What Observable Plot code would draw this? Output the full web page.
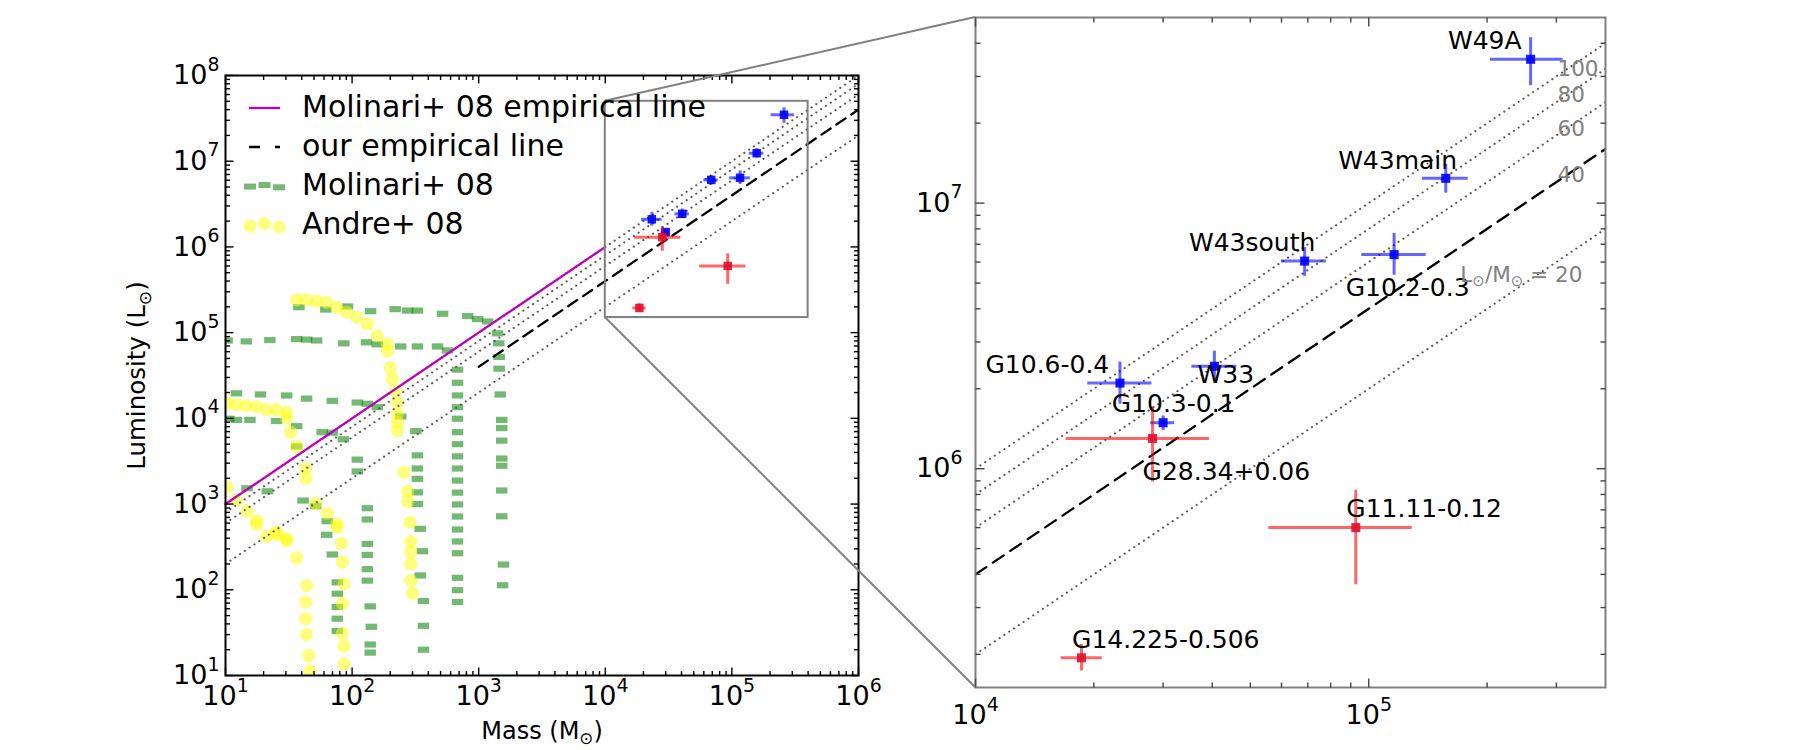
<!DOCTYPE html>
<html>
<head>
<meta charset="utf-8">
<title>Luminosity versus mass of massive clumps</title>
<script src="https://cdn.jsdelivr.net/npm/d3@7"></script>
<script src="https://cdn.jsdelivr.net/npm/@observablehq/plot@0.6"></script>
<style>
  html, body { margin: 0; padding: 0; background: #fff; }
  #chart { position: relative; width: 1800px; height: 750px; overflow: hidden; font-family: "DejaVu Sans", sans-serif; }
  #chart > svg { position: absolute; top: 0; }
</style>
</head>
<body>
<div id="chart"></div>
<script>
// ---------------- clumps (mass in Msun, luminosity in Lsun) ----------------
const clumpNames  = ["W49A", "W43main", "W43south", "G10.2-0.3", "G10.6-0.4", "W33", "G10.3-0.1", "G28.34+0.06", "G11.11-0.12", "G14.225-0.506"];
const clumpMass   = [2.58e5, 1.57e5, 6.87e4, 1.16e5, 2.33e4, 4.05e4, 3.0e4, 2.82e4, 9.27e4, 1.86e4];
const clumpMassLo = [2.04e5, 1.37e5, 6.0e4, 9.6e4, 1.93e4, 3.55e4, 2.79e4, 1.70e4, 5.57e4, 1.65e4];
const clumpMassHi = [3.12e5, 1.79e5, 7.8e4, 1.40e5, 2.81e4, 4.62e4, 3.21e4, 3.94e4, 1.29e5, 2.10e4];
const clumpLum    = [3.48e7, 1.24e7, 6.05e6, 6.4e6, 2.1e6, 2.43e6, 1.49e6, 1.30e6, 6.0e5, 1.94e5];
const clumpLumLo  = [2.77e7, 1.09e7, 5.3e6, 5.35e6, 1.75e6, 2.15e6, 1.39e6, 8.9e5, 3.66e5, 1.73e5];
const clumpLumHi  = [4.2e7, 1.4e7, 6.8e6, 7.7e6, 2.52e6, 2.77e6, 1.58e6, 1.71e6, 8.3e5, 2.18e5];
const clumpColor  = ["blue", "blue", "blue", "blue", "blue", "blue", "blue", "red", "red", "red"];
// where each name is written (left end of the text, vertical middle)
const labelMass   = [1.59e5, 8.36e4, 3.49e4, 8.74e4, 1.06e4, 3.67e4, 2.22e4, 2.66e4, 8.77e4, 1.76e4];
const labelLum    = [4.08e7, 1.44e7, 7.1e6, 4.8e6, 2.45e6, 2.26e6, 1.75e6, 9.75e5, 7.06e5, 2.27e5];

// ---------------- Molinari+ 08 evolutionary tracks: [mass, luminosity] ----------------
const molinariTrack1 = [[38,1.98e5],[62,1.86e5],[92,2.02e5],[140,1.78e5],[219,1.88e5],[274,1.81e5],[328,1.81e5],[518,1.66e5],[817,1.56e5],[980,1.44e5],[1175,1.35e5],[1410,9.8e4],[1440,7.5e4],[1450,5.2e4],[1450,3.8e4],[1480,1.9e4],[1520,9.6e3],[1520,7.7e3],[1520,5.5e3],[1520,3.4e3],[1520,2.8e3],[1520,1.44e3],[1520,720],[1570,197],[1545,113]];
const molinariTrack2 = [[10.3,8.1e4],[14.6,7.9e4],[22.4,8.2e4],[36.5,8.4e4],[43.7,8.3e4],[52.5,8.1e4],[86,7.5e4],[130,7.7e4],[158,7.3e4],[242,6.9e4],[328,6.9e4],[473,6.9e4],[567,6.2e4],[680,3.7e4],[680,2.6e4],[680,1.85e4],[680,1.35e4],[680,9.9e3],[680,6.9e3],[680,5.0e3],[680,3.6e3],[680,2.6e3],[680,1.88e3],[680,1.36e3],[680,990],[680,716],[680,505],[680,366],[680,267],[680,138],[680,99],[680,72]];
const molinariTrack3 = [[12.2,1.96e4],[18.9,1.9e4],[30.4,1.85e4],[43.7,1.7e4],[69.8,1.6e4],[110,1.53e4],[132,1.48e4],[158,1.35e4],[242,1.05e4],[319,7.1e3],[328,3.7e3],[328,2.6e3],[328,1.97e3],[328,1.37e3],[328,1.0e3],[345,514],[359,282],[345,147],[366,74],[366,38],[366,20]];
const molinariTrack4 = [[10.6,9.9e3],[12.2,9.6e3],[15.6,9.6e3],[25.3,9.3e3],[36.5,8.1e3],[36.5,4.7e3],[58,6.9e3],[69.8,6.8e3],[85.3,5.7e3],[110,3.3e3],[110,2.4e3],[132,895],[132,661],[132,343],[132,255],[132,174],[132,128],[139,64],[142,37],[139,23],[139,18.5]];
const molinariTrack5 = [[14.8,1.53e3],[21.4,1.41e3],[41,1.1e3],[51.5,945],[63.7,631],[63,438],[69.8,258],[76.4,122],[76.4,90],[76.4,63],[76.4,46],[76.4,33]];

// ---------------- Andre+ 08 evolutionary tracks: [mass, luminosity] ----------------
const andreTrack1 = [[36.5,2.41e5],[43.7,2.41e5],[52.5,2.31e5],[63,2.25e5],[75.5,1.98e5],[90.6,1.73e5],[109,1.51e5],[132,1.26e5],[158,9.2e4],[190,7.4e4],[190,6.1e4],[200,3.9e4],[208,2.9e4],[221,2.1e4],[228,1.54e4],[228,1.13e4],[228,9.0e3],[228,7.2e3],[257,2.35e3],[274,1.4e3],[274,1.07e3],[287,614],[291,365],[291,274],[291,200],[291,128],[300,91]];
const andreTrack2 = [[10.3,1.5e4],[12.2,1.45e4],[14.6,1.41e4],[17.6,1.37e4],[21.1,1.26e4],[25.3,1.26e4],[30.4,1.18e4],[30.4,1.0e4],[32.7,6.9e3],[36.5,4.7e3],[43,2.6e3],[43,2.0e3],[43.7,112],[43,72],[43,46],[43.7,30],[45.6,17.1],[46.5,11.4]];
const andreTrack3 = [[10.3,1.57e3],[12.2,1.1e3],[14.8,826],[17.6,643],[17.6,577],[21.1,418],[25.3,470],[25.3,442],[30.4,393],[30.4,375],[36.5,235]];
const andreTrack4 = [[51.5,1.02e3],[63.7,782],[75.5,587],[76.4,537],[82.2,349],[83.8,210],[86.3,117],[83.8,69],[83.8,31],[86.3,22],[86.3,13.6]];

// ---------------- reference lines L = k M ----------------
const ratioLines = [20, 60, 80, 100];      // dotted
const ourRatio = 40;                        // dashed, "our empirical line"
const molinariRatio = 100;                  // magenta, Molinari+ 08 empirical line
const molinariLineMass = [10, 1e4];
const ourLineMassLeft = [1e3, 1e6];

// ---------------- axes ----------------
const fullMass = [10, 1e6];
const fullLum = [10, 1e8];
const zoomMass = [1e4, 4e5];
const zoomLum = [1.5e5, 5e7];
const leftMassTicks = [1e1, 1e2, 1e3, 1e4, 1e5, 1e6];
const leftLumTicks = [1e1, 1e2, 1e3, 1e4, 1e5, 1e6, 1e7, 1e8];
const rightMassTicks = [1e4, 1e5];
const rightLumTicks = [1e6, 1e7];

const ratioLabels = ["100", "80", "60", "40", "L_{⊙}/M_{⊙} = 20"];
const ratioLabelMass = [3.02e5, 3.02e5, 3.02e5, 3.02e5, 1.71e5];
const ratioLabelLum = [3.2e7, 2.56e7, 1.9e7, 1.28e7, 5.37e6];

const legendLabels = ["Molinari+ 08 empirical line", "our empirical line", "Molinari+ 08", "Andre+ 08"];

// ---------------- derived tables ----------------
const clumps = clumpNames.map((name, i) => ({
  name, m: clumpMass[i], mLo: clumpMassLo[i], mHi: clumpMassHi[i],
  l: clumpLum[i], lLo: clumpLumLo[i], lHi: clumpLumHi[i],
  color: clumpColor[i], labelM: labelMass[i], labelL: labelLum[i]
}));
const toPoints = (tracks) => tracks.flat().map(([m, l]) => ({m, l}));
const molinariPoints = toPoints([molinariTrack1, molinariTrack2, molinariTrack3, molinariTrack4, molinariTrack5]);
const andrePoints = toPoints([andreTrack1, andreTrack2, andreTrack3, andreTrack4]);
const ratioLabelRows = ratioLabels.map((text, i) => ({text, m: ratioLabelMass[i], l: ratioLabelLum[i]}));

function minorTicks([lo, hi]) {
  const out = [];
  for (let e = Math.floor(Math.log10(lo)); e < Math.ceil(Math.log10(hi)); e++)
    for (let k = 2; k <= 9; k++) { const v = k * 10 ** e; if (v > lo && v < hi) out.push(v); }
  return out;
}
const expFormat = (d) => `10^{${Math.round(Math.log10(d))}}`;

// ---------------- shared marks ----------------
const barColor = {blue: "#0000ff", red: "#ff0000"};
const markerColor = {blue: "#0000ff", red: "#e0102f"};
const dashSymbol = {draw(ctx) { ctx.rect(-5.75, -3.1, 11.5, 6.2); }};
const tickShape = {draw(ctx, l) { ctx.moveTo(0, 0); ctx.lineTo(0, -l); }};
const dotted = {stroke: "#555", strokeWidth: 2, strokeDasharray: "0.2 5.6", strokeLinecap: "round", clip: true};
const TICK_FONT = 27;

function frameTicks(xs, ys, len, stroke) {
  const o = {length: len, anchor: "start", shape: tickShape, stroke, strokeWidth: 1.4, strokeLinecap: "butt"};
  return [
    Plot.vector(xs, {...o, x: (d) => d, frameAnchor: "bottom", rotate: 0}),
    Plot.vector(xs, {...o, x: (d) => d, frameAnchor: "top", rotate: 180}),
    Plot.vector(ys, {...o, y: (d) => d, frameAnchor: "left", rotate: 90}),
    Plot.vector(ys, {...o, y: (d) => d, frameAnchor: "right", rotate: -90})
  ];
}

function clumpMarks(r) {
  return ["blue", "red"].flatMap((c) => {
    const rows = clumps.filter((d) => d.color === c);
    return [
      Plot.ruleY(rows, {y: "l", x1: "mLo", x2: "mHi", stroke: barColor[c], strokeOpacity: 0.6, strokeWidth: 3}),
      Plot.ruleX(rows, {x: "m", y1: "lLo", y2: "lHi", stroke: barColor[c], strokeOpacity: 0.6, strokeWidth: 3}),
      Plot.dot(rows, {x: "m", y: "l", symbol: "square", r, fill: markerColor[c], fillOpacity: 0.9, stroke: null})
    ];
  });
}

const plotStyle = "font-family: 'DejaVu Sans', sans-serif; font-size: 25px; color: black; background: transparent; overflow: visible; max-width: none;";

// ---------------- left panel: full diagram ----------------
const left = Plot.plot({
  width: 900, height: 750,
  marginLeft: 225, marginRight: 42, marginTop: 75, marginBottom: 75,
  x: {type: "log", domain: fullMass, axis: null},
  y: {type: "log", domain: fullLum, axis: null},
  style: plotStyle,
  marks: [
    Plot.dot(molinariPoints, {x: "m", y: "l", symbol: dashSymbol, fill: "#008000", fillOpacity: 0.55, stroke: null, clip: true}),
    Plot.dot(andrePoints, {x: "m", y: "l", r: 6.6, fill: "#ffff00", fillOpacity: 0.5, stroke: null, clip: true}),
    ...ratioLines.map((k) => Plot.line(fullMass, {x: (d) => d, y: (d) => k * d, ...dotted})),
    Plot.line(molinariLineMass, {x: (d) => d, y: (d) => molinariRatio * d, stroke: "#bf00bf", strokeWidth: 2.3}),
    Plot.line(ourLineMassLeft, {x: (d) => d, y: (d) => ourRatio * d, stroke: "black", strokeWidth: 2.3, strokeDasharray: "11 7", clip: true}),
    Plot.rect([{}], {x1: () => zoomMass[0], x2: () => zoomMass[1], y1: () => zoomLum[0], y2: () => zoomLum[1], fill: "none", stroke: "#808080", strokeWidth: 2}),
    ...clumpMarks(4.8),
    Plot.frame({stroke: "black", strokeWidth: 2}),
    ...frameTicks(leftMassTicks, leftLumTicks, 8, "black"),
    ...frameTicks(minorTicks(fullMass), minorTicks(fullLum), 4.5, "black"),
    Plot.text(leftMassTicks, {x: (d) => d, frameAnchor: "bottom", textAnchor: "middle", lineAnchor: "middle", dy: 21, text: expFormat, fontSize: TICK_FONT}),
    Plot.text(leftLumTicks, {y: (d) => d, frameAnchor: "left", textAnchor: "end", lineAnchor: "middle", dx: -6, text: expFormat, fontSize: TICK_FONT}),
    Plot.text(["Mass (M_{⊙})"], {frameAnchor: "bottom", textAnchor: "middle", lineAnchor: "middle", dy: 56, text: (d) => d, fontSize: 24}),
    Plot.text(["Luminosity (L_{⊙})"], {frameAnchor: "left", textAnchor: "middle", lineAnchor: "middle", dx: -88, rotate: -90, text: (d) => d, fontSize: 24.5})
  ]
});

// ---------------- right panel: zoom on the clumps ----------------
const right = Plot.plot({
  width: 900, height: 750,
  marginLeft: 75, marginRight: 195, marginTop: 17, marginBottom: 63,
  x: {type: "log", domain: zoomMass, axis: null},
  y: {type: "log", domain: zoomLum, axis: null},
  style: plotStyle,
  marks: [
    ...ratioLines.map((k) => Plot.line(zoomMass, {x: (d) => d, y: (d) => k * d, ...dotted})),
    Plot.line(zoomMass, {x: (d) => d, y: (d) => ourRatio * d, stroke: "black", strokeWidth: 2.3, strokeDasharray: "13 8", clip: true}),
    ...clumpMarks(5.1),
    Plot.text(clumps, {x: "labelM", y: "labelL", text: "name", textAnchor: "start", lineAnchor: "middle", fontSize: 25}),
    Plot.text(ratioLabelRows, {x: "m", y: "l", text: "text", textAnchor: "start", lineAnchor: "middle", fontSize: 21.5, fill: "#808080"}),
    Plot.frame({stroke: "#808080", strokeWidth: 2}),
    ...frameTicks(rightMassTicks, rightLumTicks, 9, "#444"),
    ...frameTicks(minorTicks(zoomMass), minorTicks(zoomLum), 5, "#444"),
    Plot.text(rightMassTicks, {x: (d) => d, frameAnchor: "bottom", textAnchor: "middle", lineAnchor: "middle", dy: 28, text: expFormat, fontSize: TICK_FONT}),
    Plot.text(rightLumTicks, {y: (d) => d, frameAnchor: "left", textAnchor: "end", lineAnchor: "middle", dx: -13, text: expFormat, fontSize: TICK_FONT})
  ]
});

const chart = document.getElementById("chart");
const rightOffset = 900;
left.style.left = "0px";
right.style.left = rightOffset + "px";
chart.append(left, right);

// superscripts and subscripts written as ^{..} and _{..}
function richText(root) {
  root.querySelectorAll("text").forEach((t) => {
    const s = t.textContent;
    if (!/[\^_]\{/.test(s)) return;
    const fs = parseFloat(getComputedStyle(t).fontSize) || 25;
    t.textContent = "";
    const re = /([\^_])\{([^}]*)\}|([^\^_]+)/g;
    let m, shift = 0;
    while ((m = re.exec(s))) {
      const span = document.createElementNS("http://www.w3.org/2000/svg", "tspan");
      if (m[1]) {
        const target = m[1] === "^" ? -0.5 * fs : 0.22 * fs;
        span.setAttribute("dy", target - shift);
        span.setAttribute("font-size", 0.7 * fs);
        span.textContent = m[2];
        shift = target;
      } else {
        if (shift) span.setAttribute("dy", -shift);
        span.textContent = m[3];
        shift = 0;
      }
      t.appendChild(span);
    }
  });
}
richText(left);
richText(right);

// ---------------- overlay: zoom connectors and legend ----------------
const lx = left.scale("x"), ly = left.scale("y");
const rx = right.scale("x"), ry = right.scale("y");
const overlay = d3.select(chart).append("svg")
  .attr("width", 1800).attr("height", 750)
  .style("left", "0px").style("pointer-events", "none");

for (const L of [zoomLum[1], zoomLum[0]]) {
  overlay.append("line")
    .attr("x1", lx.apply(zoomMass[0])).attr("y1", ly.apply(L))
    .attr("x2", rightOffset + rx.apply(zoomMass[0])).attr("y2", ry.apply(L))
    .attr("stroke", "#808080").attr("stroke-width", 2);
}

const lg = overlay.append("g")
  .attr("transform", `translate(${lx.apply(fullMass[0])},${ly.apply(fullLum[1])})`)
  .attr("font-family", "'DejaVu Sans', sans-serif").attr("font-size", 30);
const rowY = [33, 72, 111, 150];
const hx0 = 24, hx1 = 55;
lg.append("line").attr("x1", hx0).attr("x2", hx1).attr("y1", rowY[0]).attr("y2", rowY[0])
  .attr("stroke", "#bf00bf").attr("stroke-width", 2.3);
lg.append("line").attr("x1", hx0).attr("x2", hx1).attr("y1", rowY[1]).attr("y2", rowY[1])
  .attr("stroke", "black").attr("stroke-width", 2.3).attr("stroke-dasharray", "11 15");
const scatterOffsets = [0.6, -1, 1.3];
[hx0 + 1, (hx0 + hx1) / 2, hx1 - 1].forEach((x, i) => {
  lg.append("rect").attr("x", x - 6).attr("y", rowY[2] + scatterOffsets[i] - 3).attr("width", 12).attr("height", 6)
    .attr("fill", "#008000").attr("fill-opacity", 0.55);
  lg.append("circle").attr("cx", x).attr("cy", rowY[3] + scatterOffsets[i] * 1.5).attr("r", 6.5)
    .attr("fill", "#ffff00").attr("fill-opacity", 0.5);
});
legendLabels.forEach((t, i) => {
  lg.append("text").attr("x", 77).attr("y", rowY[i] + 9).text(t);
});
</script>
</body>
</html>
